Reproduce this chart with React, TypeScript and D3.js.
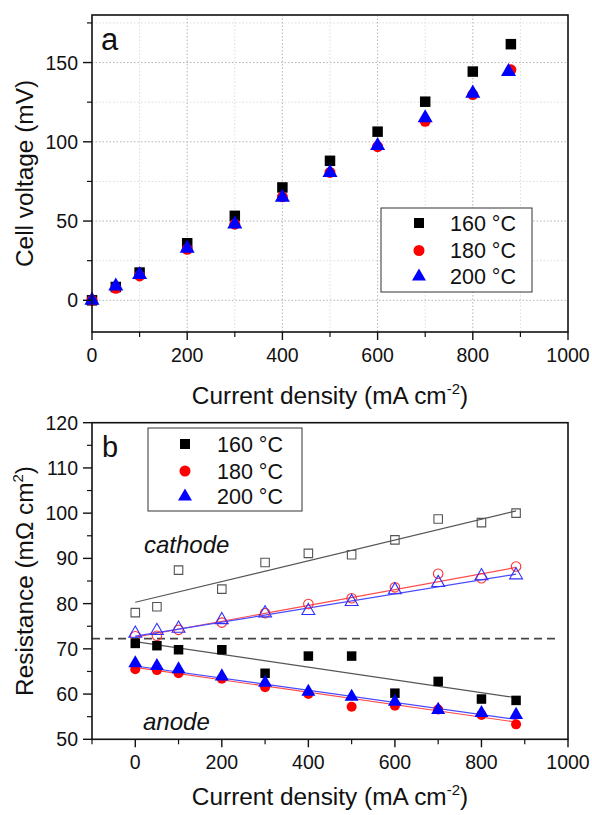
import React from "react";
import * as d3 from "d3";

// ---------- Panel a data ----------
const xA160 = [0, 50, 100, 200, 300, 400, 500, 600, 700, 800, 880];
const vA160 = [0, 8.4, 17.5, 36, 53.3, 71.2, 88, 106.4, 125.3, 144.3, 161.6];
const xA180 = [0, 50, 100, 200, 300, 400, 500, 600, 700, 800, 880];
const vA180 = [0, 7.6, 15.4, 32.2, 48, 65.3, 80.7, 96.9, 112.9, 129.8, 145.4];
const xA200 = [0, 50, 100, 200, 300, 400, 500, 600, 700, 800, 875];
const vA200 = [0, 8.9, 16.2, 32.7, 48, 64.9, 80.5, 97.5, 115, 130.6, 144.3];

// ---------- Panel b data ----------
const xB = [0, 50, 100, 200, 300, 400, 500, 600, 700, 800, 880];
const cathode160 = [78.0, 79.3, 87.4, 83.2, 89.1, 91.1, 90.8, 94.1, 98.7, 97.9, 100.0];
const cathode180 = [72.8, 72.9, 74.2, 75.8, 77.9, 79.9, 81.2, 83.6, 86.6, 85.6, 88.2];
const cathode200 = [73.4, 74.0, 74.5, 76.4, 77.9, 78.4, 80.4, 83.0, 84.6, 86.1, 86.3];
const anode160 = [71.2, 70.7, 69.8, 69.8, 64.6, 68.4, 68.4, 60.2, 62.8, 58.9, 58.6];
const anode180 = [65.5, 65.3, 64.6, 63.4, 61.5, 60.0, 57.2, 57.4, 56.6, 55.4, 53.3];
const anode200 = [66.8, 66.2, 65.5, 63.9, 62.5, 60.5, 59.4, 58.3, 56.5, 55.8, 55.4];

// fitted line endpoints
const fitX = [0, 880];
const fitCathode160 = [80.3, 100.5];
const fitCathode180 = [72.6, 88.0];
const fitCathode200 = [72.8, 86.5];
const fitAnode160 = [71.6, 59.2];
const fitAnode180 = [65.9, 53.8];
const fitAnode200 = [66.2, 54.4];

const dashedX = [-100, 980];
const dashedY = 72.25;

const legendLabels = ["160 °C", "180 °C", "200 °C"];
const xTicksMajor = [0, 200, 400, 600, 800, 1000];
const xTicksMinorA = [100, 300, 500, 700, 900];
const xTicksMinorB = [-100, 100, 300, 500, 700, 900];
const yTicksMajorA = [0, 50, 100, 150];
const yTicksMinorA = [25, 75, 125, 175];
const yTicksMajorB = [50, 60, 70, 80, 90, 100, 110, 120];
const yTicksMinorB = [55, 65, 75, 85, 95, 105, 115];

const FONT = "'Liberation Sans', Arial, Helvetica, sans-serif";

const pA = { l: 92, t: 15, r: 568, b: 332 };
const pB = { l: 92, t: 422.7, r: 568, b: 739.3 };

const xa = d3.scaleLinear().domain([0, 1000]).range([pA.l, pA.r]);
const ya = d3.scaleLinear().domain([-20, 180]).range([pA.b, pA.t]);
const xb = d3.scaleLinear().domain([-100, 1000]).range([pB.l, pB.r]);
const yb = d3.scaleLinear().domain([50, 120]).range([pB.b, pB.t]);

const tri = d3.symbol().type(d3.symbolTriangle);
const circ = d3.symbol().type(d3.symbolCircle);
const sq = d3.symbol().type(d3.symbolSquare);

function Marker({ kind, x, y, size, fill, stroke, sw }: any) {
  let path = "";
  if (kind === "square") path = sq.size(size * size)() as string;
  if (kind === "circle") path = circ.size((Math.PI * size * size) / 4)() as string;
  if (kind === "triangle") path = tri.size(size * size * 0.5)() as string;
  return (
    <path
      d={path}
      transform={`translate(${x},${y})`}
      fill={fill}
      stroke={stroke || "none"}
      strokeWidth={sw || 0}
    />
  );
}

function Axes({ p, x, y, xMinor, yMajor, yMinor }: any) {
  return (
    <g fontFamily={FONT} fontSize={19.5} fill="#111">
      {xTicksMajor.map((t) => (
        <g key={"xm" + t}>
          <line x1={x(t)} x2={x(t)} y1={p.b} y2={p.b + 8} stroke="#111" strokeWidth={1.4} />
          <text x={x(t)} y={p.b + 30} textAnchor="middle">{t}</text>
        </g>
      ))}
      {xMinor.map((t: number) => (
        <line key={"xn" + t} x1={x(t)} x2={x(t)} y1={p.b} y2={p.b + 5} stroke="#111" strokeWidth={1.2} />
      ))}
      {yMajor.map((t: number) => (
        <g key={"ym" + t}>
          <line x1={p.l - 9} x2={p.l} y1={y(t)} y2={y(t)} stroke="#111" strokeWidth={1.4} />
          <text x={p.l - 14} y={y(t)} dy="0.36em" textAnchor="end">{t}</text>
        </g>
      ))}
      {yMinor.map((t: number) => (
        <line key={"yn" + t} x1={p.l - 5} x2={p.l} y1={y(t)} y2={y(t)} stroke="#111" strokeWidth={1.2} />
      ))}
      <rect x={p.l} y={p.t} width={p.r - p.l} height={p.b - p.t} fill="none" stroke="#111" strokeWidth={1.6} />
    </g>
  );
}

function XTitle({ cx, y }: any) {
  return (
    <text x={cx} y={y} textAnchor="middle" fontFamily={FONT} fontSize={24.4} fill="#111">
      Current density (mA cm
      <tspan dy={-10} fontSize={15}>-2</tspan>
      <tspan dy={10}>)</tspan>
    </text>
  );
}

function Legend({ x, y, w, h, rows, mx, tx, fs }: any) {
  const kinds = [
    { kind: "square", fill: "#000", size: 10 },
    { kind: "circle", fill: "#ff0000", size: 11 },
    { kind: "triangle", fill: "#0000ff", size: 13 },
  ];
  return (
    <g>
      <rect x={x} y={y} width={w} height={h} fill="#fff" stroke="#333" strokeWidth={1} />
      {rows.map((ry: number, i: number) => (
        <g key={i}>
          <Marker {...kinds[i]} x={mx} y={ry} />
          <text x={tx} y={ry} dy="0.36em" fontFamily={FONT} fontSize={fs} fill="#111">
            {legendLabels[i]}
          </text>
        </g>
      ))}
    </g>
  );
}

export default function App() {
  const line = (xs: number[], ys: number[], sx: any, sy: any) =>
    d3.line<number>().x((_, i) => sx(xs[i])).y((v) => sy(v))(ys) as string;

  return (
    <svg
      width={592}
      height={815}
      viewBox="0 0 592 815"
      style={{ position: "absolute", left: 0, top: 0, background: "#fff" }}
    >
      <rect x={0} y={0} width={592} height={815} fill="#fff" />

      {/* ---------------- Panel a ---------------- */}
      <g>
        {yTicksMinorA.map((t) => (
          <line key={"gya" + t} x1={pA.l} x2={pA.r} y1={ya(t)} y2={ya(t)} stroke="#dcdcdc" strokeWidth={1} strokeDasharray="1.5,2" />
        ))}
        {xTicksMinorA.map((t) => (
          <line key={"gxa" + t} x1={xa(t)} x2={xa(t)} y1={pA.t} y2={pA.b} stroke="#dcdcdc" strokeWidth={1} strokeDasharray="1.5,2" />
        ))}
        {yTicksMajorA.map((t) => (
          <line key={"gyA" + t} x1={pA.l} x2={pA.r} y1={ya(t)} y2={ya(t)} stroke="#b4b4b4" strokeWidth={1} strokeDasharray="1.5,2" />
        ))}
        {xTicksMajor.slice(1, 5).map((t) => (
          <line key={"gxA" + t} x1={xa(t)} x2={xa(t)} y1={pA.t} y2={pA.b} stroke="#b4b4b4" strokeWidth={1} strokeDasharray="1.5,2" />
        ))}
      </g>
      {vA160.map((v, i) => (
        <Marker key={"a160" + i} kind="square" x={xa(xA160[i])} y={ya(v)} size={10.5} fill="#000" />
      ))}
      {vA180.map((v, i) => (
        <Marker key={"a180" + i} kind="circle" x={xa(xA180[i])} y={ya(v)} size={11} fill="#ff0000" />
      ))}
      {vA200.map((v, i) => (
        <Marker key={"a200" + i} kind="triangle" x={xa(xA200[i])} y={ya(v)} size={14} fill="#0000ff" />
      ))}
      <Axes p={pA} x={xa} y={ya} xMinor={xTicksMinorA} yMajor={yTicksMajorA} yMinor={yTicksMinorA} />
      <Legend x={381} y={208} w={151} h={84} rows={[223, 250.5, 276.5]} mx={419} tx={450} fs={21.5} />
      <text x={101} y={50} fontFamily={FONT} fontSize={31} fill="#111">a</text>
      <XTitle cx={330} y={404} />
      <text
        transform={`translate(33,${(pA.t + pA.b) / 2}) rotate(-90)`}
        textAnchor="middle"
        fontFamily={FONT}
        fontSize={24.4}
        fill="#111"
      >
        Cell voltage (mV)
      </text>

      {/* ---------------- Panel b ---------------- */}
      <line
        x1={xb(dashedX[0])}
        x2={xb(dashedX[1])}
        y1={yb(dashedY)}
        y2={yb(dashedY)}
        stroke="#444"
        strokeWidth={1.6}
        strokeDasharray="8,5"
      />
      <path d={line(fitX, fitCathode160, xb, yb)} stroke="#555" strokeWidth={1.2} fill="none" />
      <path d={line(fitX, fitCathode180, xb, yb)} stroke="#ff4a4a" strokeWidth={1.2} fill="none" />
      <path d={line(fitX, fitCathode200, xb, yb)} stroke="#4a4aff" strokeWidth={1.2} fill="none" />
      <path d={line(fitX, fitAnode160, xb, yb)} stroke="#555" strokeWidth={1.2} fill="none" />
      <path d={line(fitX, fitAnode180, xb, yb)} stroke="#ff4a4a" strokeWidth={1.2} fill="none" />
      <path d={line(fitX, fitAnode200, xb, yb)} stroke="#4a4aff" strokeWidth={1.2} fill="none" />

      {cathode160.map((v, i) => (
        <Marker key={"c160" + i} kind="square" x={xb(xB[i])} y={yb(v)} size={8.5} fill="none" stroke="#555" sw={1.1} />
      ))}
      {cathode180.map((v, i) => (
        <Marker key={"c180" + i} kind="circle" x={xb(xB[i])} y={yb(v)} size={9.5} fill="none" stroke="#ff3030" sw={1.1} />
      ))}
      {cathode200.map((v, i) => (
        <Marker key={"c200" + i} kind="triangle" x={xb(xB[i])} y={yb(v)} size={12} fill="none" stroke="#3030ff" sw={1.1} />
      ))}
      {anode160.map((v, i) => (
        <Marker key={"n160" + i} kind="square" x={xb(xB[i])} y={yb(v)} size={9.5} fill="#000" />
      ))}
      {anode180.map((v, i) => (
        <Marker key={"n180" + i} kind="circle" x={xb(xB[i])} y={yb(v)} size={10} fill="#ff0000" />
      ))}
      {anode200.map((v, i) => (
        <Marker key={"n200" + i} kind="triangle" x={xb(xB[i])} y={yb(v)} size={13} fill="#0000ff" />
      ))}
      <Axes p={pB} x={xb} y={yb} xMinor={xTicksMinorB} yMajor={yTicksMajorB} yMinor={yTicksMinorB} />
      <Legend x={148} y={428} w={154} h={83} rows={[444, 471, 496.5]} mx={185} tx={217} fs={21.5} />
      <text x={102} y={457} fontFamily={FONT} fontSize={29} fill="#111">b</text>
      <text x={144} y={553} fontFamily={FONT} fontSize={24} fontStyle="italic" fill="#111">cathode</text>
      <text x={143} y={730} fontFamily={FONT} fontSize={24} fontStyle="italic" fill="#111">anode</text>
      <XTitle cx={330} y={805} />
      <text
        transform={`translate(33,${(pB.t + pB.b) / 2}) rotate(-90)`}
        textAnchor="middle"
        fontFamily={FONT}
        fontSize={24.4}
        fill="#111"
      >
        Resistance (mΩ cm
        <tspan dy={-10} fontSize={15}>2</tspan>
        <tspan dy={10}>)</tspan>
      </text>
    </svg>
  );
}
